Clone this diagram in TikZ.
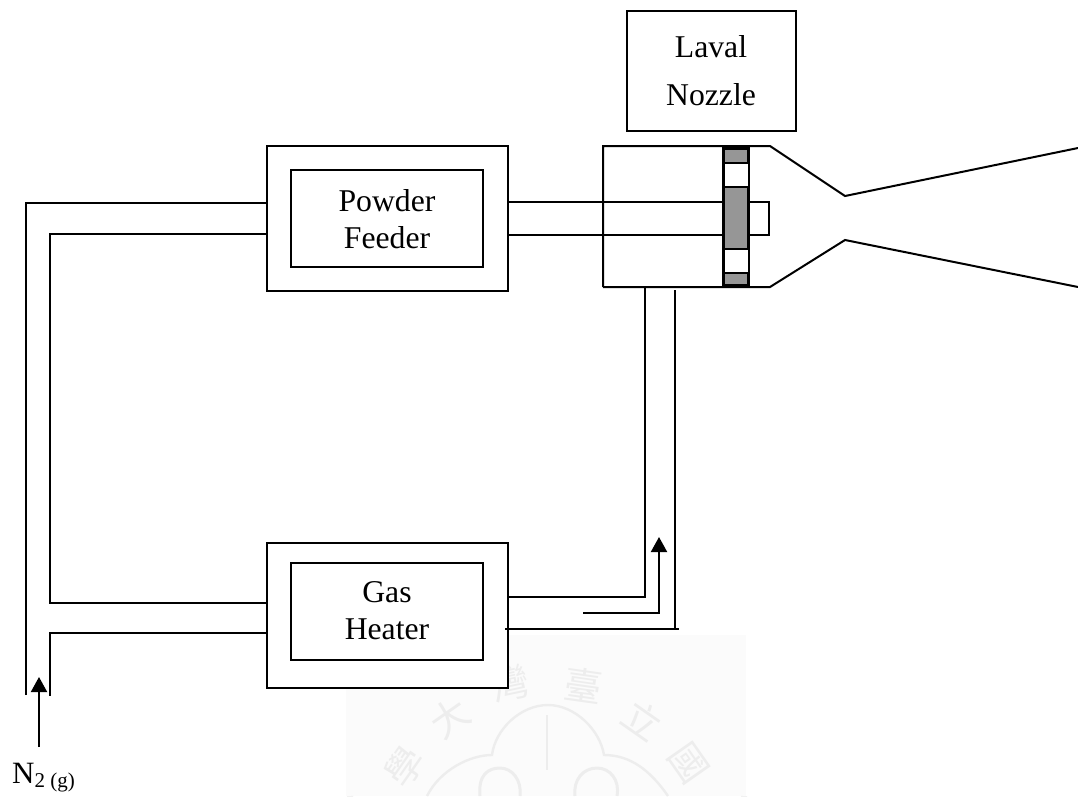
\documentclass[tikz,border=0pt]{standalone}
\usepackage{fontspec}
\setmainfont{Liberation Serif}
\newfontfamily\cjk{Noto Sans CJK TC}
\usetikzlibrary{arrows.meta}
\definecolor{mk}{HTML}{EDEDED}
\definecolor{mkbg}{HTML}{FBFBFB}
\definecolor{gr}{HTML}{969696}
\tikzset{
 ln/.style={line width=2pt,black},
 box/.style={draw=black,line width=2.2pt,fill=white,inner sep=0pt},
 lab/.style={font=\fontsize{31.7}{37}\selectfont,align=center,inner sep=0pt},
 wm/.style={font=\cjk\fontsize{38}{38}\selectfont,text=mk,inner sep=0pt},
 arr/.style={line width=2pt,-{Triangle[length=15pt,width=16pt]}},
}
\begin{document}
\begin{tikzpicture}[x=1pt,y=-1pt]
\useasboundingbox (0,0) rectangle (1078,796);
% watermark
\fill[mkbg] (346,635) rectangle (746,796);
\begin{scope}[draw=mk,line width=2.4pt]
\draw[line width=6pt,draw=mk!70!mkbg] (350,796) arc[start angle=180,end angle=0,x radius=197,y radius=158];
\draw (427,796) .. controls (440,770) and (470,755) .. (492,755) .. controls (495,730) and (520,705) .. (548,705) .. controls (575,705) and (600,730) .. (604,755) .. controls (630,755) and (650,770) .. (668,796);
\draw[line width=3pt] (480,796) .. controls (478,775) and (488,768) .. (500,768) .. controls (512,768) and (522,780) .. (520,796);
\draw[line width=3pt] (575,796) .. controls (573,780) and (583,768) .. (597,768) .. controls (610,768) and (620,780) .. (617,796);
\draw[line width=1.2pt] (547,715) -- (547,770);
\end{scope}
\node[wm,rotate=35] (w1) at (450,718) {大};
\node[wm,rotate=12] (w2) at (510,683) {灣};
\node[wm,rotate=-8] (w3) at (583,685) {臺};
\node[wm,rotate=-35] (w4) at (643,720) {立};
\node[wm,rotate=55] (w5) at (405,767) {學};
\node[wm,rotate=-55] (w6) at (688,763) {國};
% pipe corners
\coordinate (l1) at (26,203); \coordinate (l2) at (26,695);
\coordinate (p1) at (50,234); \coordinate (p2) at (50,603);
\coordinate (q1) at (50,633); \coordinate (q2) at (50,696);
% boxes
\node[box,minimum width=241pt,minimum height=145pt] (pfo) at (387.5,218.5) {};
\node[box,minimum width=192pt,minimum height=97pt] (pfi) at (387,218.5) {};
\node[lab] (pft) at (387,219) {Powder\\Feeder};
\node[box,minimum width=241pt,minimum height=145pt] (gho) at (387.5,615.5) {};
\node[box,minimum width=192pt,minimum height=97pt] (ghi) at (387,611.5) {};
\node[lab] (ght) at (387,611) {Gas\\Heater};
\node[box,minimum width=169pt,minimum height=120pt] (ln) at (711.5,71) {};
\node[lab,font=\fontsize{31.7}{48}\selectfont] (lnt) at (711,70.5) {Laval\\Nozzle};
\draw[ln] (l2) -- (l1) -- (l1 -| pfo.west);
\draw[ln] (p1 -| pfo.west) -- (p1) -- (p2) -- (p2 -| gho.west);
\draw[ln] (q1 -| gho.west) -- (q1) -- (q2);
% chamber
\coordinate (c1) at (603,146); \coordinate (c2) at (603,287);
\draw[ln] (c2) -- (c1) -- (770,146) -- (845,196) -- (1078,148);
\draw[ln] (c2) -- (770,287) -- (845,240) -- (1078,287);
% tube
\draw[ln] (508,202) -- (769,202) -- (769,235) -- (508,235);
% disc
\node[draw=black,line width=2.2pt,fill=gr,minimum width=25pt,minimum height=137pt,inner sep=0pt] (disc) at (736,217) {};
\node[draw=black,line width=2pt,fill=white,minimum width=25pt,minimum height=24pt,inner sep=0pt] (h1) at (736,175) {};
\node[draw=black,line width=2pt,fill=white,minimum width=25pt,minimum height=24pt,inner sep=0pt] (h2) at (736,260.5) {};
% lower feed
\draw[ln] (508,597) -- (645,597) -- (645,287);
\draw[ln] (505,629) -- (679,629);
\draw[ln] (675,629) -- (675,290);
\draw[arr] (583,613) -- (659,613) -- (659,537);
\coordinate (n) at (39,747);
\draw[arr] (n) -- (39,677);
\node[font=\fontsize{31}{31}\selectfont,inner sep=0pt,anchor=base west] (n2) at (12,783) {N\raisebox{-4pt}{\fontsize{21}{21}\selectfont 2 (g)}};
\end{tikzpicture}
\end{document}
